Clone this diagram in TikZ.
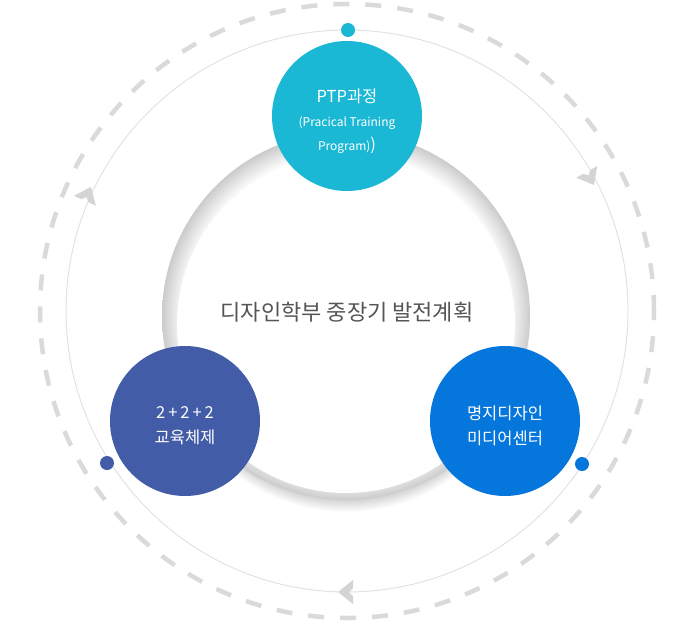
\documentclass[tikz,border=0pt]{standalone}
\usepackage{fontspec}
\setmainfont{Noto Sans CJK KR}
\usepackage{tikz}
\usetikzlibrary{arrows.meta, positioning}

\definecolor{ptpcol}{HTML}{1BB8D5}
\definecolor{educol}{HTML}{425CA8}
\definecolor{medcol}{HTML}{0576DB}
\definecolor{ringgray}{HTML}{CBCBCB}
\definecolor{ringmid}{HTML}{E4E4E4}
\definecolor{dashgray}{HTML}{DADADA}
\definecolor{chevgray}{HTML}{D4D4D4}
\definecolor{thingray}{HTML}{E2E2E2}
\definecolor{titlecol}{HTML}{555555}

\pgfdeclareradialshading{ringfade}{\pgfpoint{0bp}{0bp}}{color(0bp)=(white); color(22bp)=(white); color(23.6bp)=(ringmid); color(25bp)=(ringgray); color(50bp)=(ringgray)}
\pgfdeclareradialshading{ringshadow}{\pgfpoint{0bp}{0bp}}{color(0bp)=(ringgray); color(23bp)=(ringgray); color(25bp)=(white); color(50bp)=(white)}

\begin{document}
\begin{tikzpicture}[x=1pt, y=-1pt,
  bigdot/.style={circle, minimum size=150pt, inner sep=0pt},
  smalldot/.style={circle, minimum size=14pt, inner sep=0pt},
  chev/.pic={\fill[chevgray] (0,0) -- (-15,-12) -- (-15,-4) -- (-11,0) -- (-15,4) -- (-15,12) -- cycle;}]
  \useasboundingbox (0,0) rectangle (685,626);
  % cycle rings
  \draw[dashgray, line width=4.5pt, dash pattern=on 16pt off 16pt] (347,311) circle[radius=307pt];
  \draw[thingray, line width=1pt] (347,311) circle[radius=281pt];
  \pic[rotate=180] at (338,592) {chev};
  \pic[rotate=-61] at (594,185) {chev};
  \pic[rotate=66] at (91,187) {chev};
  % grey ring in the middle
  \shade[shading=ringshadow] (346,328) circle[radius=184pt];
  \shade[shading=ringfade] (346,316) circle[radius=184pt];
  \fill[white] (346,324) circle[radius=169pt];
  \node[text=titlecol, font=\fontsize{22}{22}\selectfont] (title) at (347,312) {디자인학부 중장기 발전계획};
  % three stages
  \node[bigdot, fill=ptpcol] (ptp) at (347,116) {};
  \node[text=white, align=center, font=\fontsize{16.5}{24}\selectfont] (ptptext) at (347,121)
    {PTP과정\\{\fontsize{12}{24}\selectfont (Pracical Training}\\{\fontsize{12}{24}\selectfont Program)}{\fontsize{16.5}{24}\selectfont )}};
  \node[bigdot, fill=educol] (edu) at (185,421) {};
  \node[text=white, align=center, font=\fontsize{16.5}{25}\selectfont] (edutext) at (185,426)
    {2\hspace{3pt}+\hspace{3pt}2\hspace{3pt}+\hspace{3pt}2\\교육체제};
  \node[bigdot, fill=medcol] (media) at (505,421) {};
  \node[text=white, align=center, font=\fontsize{16.5}{25}\selectfont] (mediatext) at (505,426) {명지디자인\\미디어센터};
  % dots on the cycle
  \node[smalldot, fill=ptpcol] (ptpdot) at (348,30) {};
  \node[smalldot, fill=educol] (edudot) at (107,463) {};
  \node[smalldot, fill=medcol] (mediadot) at (582,464) {};
\end{tikzpicture}
\end{document}
